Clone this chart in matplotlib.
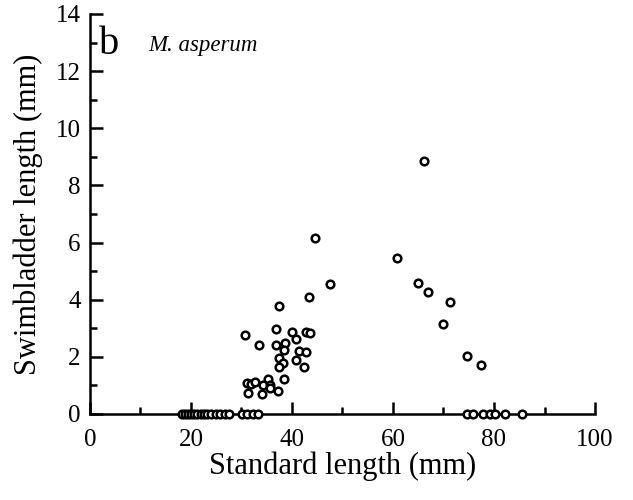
import numpy as np
import matplotlib
matplotlib.use("Agg")
import matplotlib.pyplot as plt
from matplotlib.ticker import MultipleLocator

# standard length (mm) vs swimbladder length (mm), M. asperum
sl = [44.5, 47.5, 43.4, 37.5, 36.9, 30.8, 40.1, 42.8, 43.5, 33.5,
      36.8, 38.7, 40.9, 38.4, 41.3, 42.8, 37.4, 38.2, 40.9, 37.5,
      42.4, 38.4, 31.2, 31.9, 32.7, 35.2, 34.3, 35.7, 35.6, 37.2,
      31.3, 34.1,
      66.2, 60.8, 64.9, 66.9, 71.2, 69.9, 74.7, 77.4,
      18.3, 18.9, 19.5, 20.1, 20.7, 21.3, 21.9, 22.5, 23.2, 24.0,
      24.9, 25.8, 26.8, 27.6, 30.2, 31.2, 32.3, 33.3,
      74.7, 75.9, 77.9, 79.2, 80.2, 82.2, 85.5]
sb = [6.17, 4.54, 4.11, 3.77, 2.99, 2.77, 2.86, 2.88, 2.84, 2.40,
      2.41, 2.49, 2.61, 2.23, 2.21, 2.18, 1.95, 1.77, 1.89, 1.64,
      1.64, 1.23, 1.07, 1.05, 1.11, 1.21, 1.00, 1.03, 0.90, 0.82,
      0.72, 0.69,
      8.87, 5.47, 4.57, 4.26, 3.92, 3.16, 2.04, 1.73,
      0, 0, 0, 0, 0, 0, 0, 0, 0, 0,
      0, 0, 0, 0, 0, 0, 0, 0,
      0, 0, 0, 0, 0, 0, 0]

plt.rcParams['font.family'] = ['Liberation Serif', 'DejaVu Serif']

fig = plt.figure(figsize=(6.33, 5.0), dpi=100)
ax = fig.add_axes([0.142, 0.172, 0.798, 0.8])

ax.plot(sl, sb, linestyle='none', marker='o', markersize=5.5,
        markerfacecolor='white', markeredgecolor='black',
        markeredgewidth=1.8, clip_on=False, zorder=5)

ax.set_xlim(0, 100)
ax.set_ylim(0, 14)
ax.xaxis.set_major_locator(MultipleLocator(20))
ax.xaxis.set_minor_locator(MultipleLocator(10))
ax.yaxis.set_major_locator(MultipleLocator(2))
ax.yaxis.set_minor_locator(MultipleLocator(1))

for s in ['top', 'right']:
    ax.spines[s].set_visible(False)
for s in ['left', 'bottom']:
    ax.spines[s].set_linewidth(1.8)

ax.tick_params(which='major', direction='in', length=9, width=1.8,
               labelsize=18)
ax.tick_params(which='minor', direction='in', length=5, width=1.8)
ax.tick_params(axis='x', which='major', pad=11)
ax.tick_params(axis='y', which='major', pad=6.5)

ax.set_xlabel('Standard length (mm)', fontsize=22, labelpad=0)
ax.set_ylabel('Swimbladder length (mm)', fontsize=22, labelpad=9)

ax.text(0.018, 0.925, 'b', transform=ax.transAxes, fontsize=29,
        va='center', ha='left')
ax.text(0.115, 0.922, 'M. asperum', transform=ax.transAxes, fontsize=16.5,
        style='italic', va='center', ha='left')

fig.savefig('out.png', dpi=100)
